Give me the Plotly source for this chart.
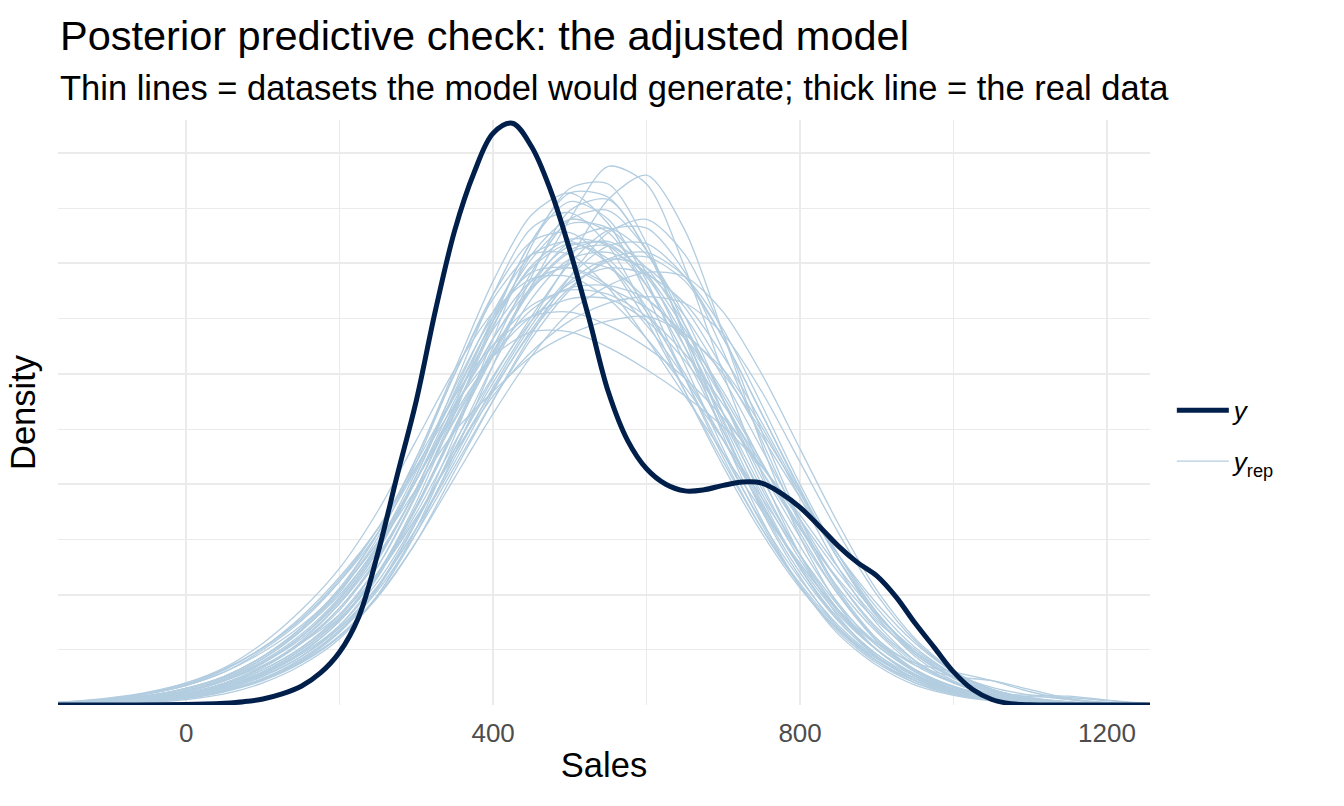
import plotly.graph_objects as go

# density values are in units of 1e-4
sales_grid = [-200, -150, -100, -50, 0, 50, 100, 150, 200, 250, 300, 350, 400, 450, 500,
              550, 600, 650, 700, 750, 800, 850, 900, 950, 1000, 1050, 1100, 1150, 1200, 1250, 1300]

y_sales = [-200, -100, 0, 25, 50, 75, 100, 125, 150, 175, 200, 225, 250, 275, 300, 325, 350,
           375, 400, 425, 450, 475, 500, 525, 550, 575, 600, 625, 650, 675, 700, 725, 750,
           775, 800, 825, 850, 875, 900, 925, 950, 975, 1000, 1025, 1050, 1075, 1100, 1150, 1300]
y_density = [0, 0, 0.02, 0.04, 0.08, 0.15, 0.27, 0.5, 0.85, 1.45, 2.4, 4.0, 6.9, 10.4, 13.8,
             17.9, 21.5, 24.1, 25.9, 26.35, 25.3, 23.3, 20.6, 17.5, 14.2, 12.0, 10.7, 10.0,
             9.7, 9.75, 9.95, 10.1, 10.05, 9.6, 8.95, 8.1, 7.2, 6.45, 5.85, 4.9, 3.7, 2.6,
             1.5, 0.7, 0.25, 0.06, 0.01, 0, 0]

yrep_01 = [0.02, 0.05, 0.12, 0.25, 0.45, 0.9, 1.6, 2.6, 4.0, 6.3, 9.6, 13.0, 16.0, 18.8, 20.5, 20.8, 19.5, 17.0, 14.0, 11.0, 8.0, 5.3, 3.3, 1.8, 1.0, 0.5, 0.25, 0.12, 0.05, 0.02, 0.01]
yrep_02 = [0.01, 0.03, 0.08, 0.18, 0.35, 0.7, 1.3, 2.2, 3.6, 5.8, 9.0, 12.5, 15.8, 19.0, 22.0, 24.4, 23.6, 19.8, 15.0, 10.5, 6.8, 4.0, 2.2, 1.1, 0.5, 0.22, 0.1, 0.04, 0.02, 0.01, 0.0]
yrep_03 = [0.01, 0.04, 0.1, 0.2, 0.4, 0.8, 1.4, 2.3, 3.6, 5.6, 8.4, 11.6, 14.6, 17.4, 20.2, 22.9, 24.0, 21.5, 16.8, 11.8, 7.6, 4.5, 2.5, 1.3, 0.6, 0.28, 0.12, 0.05, 0.02, 0.01, 0.0]
yrep_04 = [0.03, 0.08, 0.18, 0.35, 0.65, 1.2, 2.1, 3.4, 5.2, 7.8, 11.2, 15.2, 19.2, 22.2, 23.2, 21.8, 18.6, 14.8, 11.2, 8.0, 5.4, 3.4, 2.0, 1.1, 0.6, 0.3, 0.14, 0.06, 0.03, 0.01, 0.0]
yrep_05 = [0.02, 0.06, 0.14, 0.28, 0.5, 0.95, 1.7, 2.8, 4.4, 6.7, 9.8, 13.6, 17.6, 21.0, 23.2, 23.0, 20.6, 16.8, 12.8, 9.2, 6.2, 3.9, 2.3, 1.2, 0.6, 0.28, 0.12, 0.05, 0.02, 0.01, 0.0]
yrep_06 = [0.04, 0.1, 0.22, 0.42, 0.75, 1.3, 2.2, 3.4, 5.0, 7.2, 9.8, 12.4, 14.2, 15.8, 16.8, 17.4, 17.6, 16.8, 15.0, 12.4, 9.6, 6.8, 4.4, 2.6, 1.4, 0.7, 0.32, 0.14, 0.06, 0.02, 0.01]
yrep_07 = [0.05, 0.12, 0.26, 0.5, 0.9, 1.6, 2.6, 3.9, 5.7, 8.0, 10.8, 13.6, 15.8, 16.9, 16.9, 16.2, 15.2, 14.0, 12.6, 10.8, 8.6, 6.2, 4.1, 2.5, 1.4, 0.7, 0.33, 0.15, 0.06, 0.02, 0.01]
yrep_08 = [0.06, 0.15, 0.3, 0.55, 0.95, 1.6, 2.6, 4.0, 5.8, 8.0, 10.8, 14.0, 17.4, 20.2, 21.8, 21.6, 19.6, 16.2, 12.4, 8.9, 6.0, 3.8, 2.2, 1.2, 0.6, 0.28, 0.12, 0.05, 0.02, 0.01, 0.0]
yrep_09 = [0.01, 0.03, 0.08, 0.18, 0.35, 0.7, 1.3, 2.2, 3.5, 5.4, 8.0, 11.2, 14.4, 17.2, 19.4, 20.8, 20.9, 19.4, 16.6, 13.2, 9.8, 6.6, 4.0, 2.2, 1.1, 0.5, 0.22, 0.1, 0.04, 0.02, 0.01]
yrep_10 = [0.02, 0.06, 0.14, 0.28, 0.5, 0.95, 1.7, 2.8, 4.3, 6.6, 9.8, 13.4, 16.6, 18.9, 20.0, 19.8, 18.4, 16.8, 15.2, 12.6, 9.4, 6.2, 3.7, 2.0, 1.0, 0.46, 0.2, 0.08, 0.03, 0.01, 0.0]
yrep_11 = [0.02, 0.05, 0.11, 0.22, 0.42, 0.8, 1.45, 2.4, 3.8, 6.0, 9.0, 12.6, 16.2, 19.6, 22.0, 22.4, 20.6, 17.2, 13.2, 9.4, 6.2, 3.8, 2.2, 1.2, 0.6, 0.28, 0.12, 0.05, 0.02, 0.01, 0.0]
yrep_12 = [0.03, 0.08, 0.17, 0.33, 0.6, 1.1, 1.9, 3.0, 4.6, 6.8, 9.7, 12.9, 15.8, 17.9, 18.9, 19.0, 18.4, 16.6, 13.8, 10.6, 7.6, 5.0, 3.0, 1.8, 1.3, 1.1, 0.7, 0.3, 0.1, 0.03, 0.01]
yrep_13 = [0.04, 0.1, 0.22, 0.42, 0.75, 1.3, 2.2, 3.5, 5.3, 7.8, 11.2, 15.0, 18.6, 21.0, 21.4, 20.0, 17.4, 14.2, 11.0, 8.0, 5.5, 3.5, 2.1, 1.2, 0.62, 0.3, 0.13, 0.05, 0.02, 0.01, 0.0]
yrep_14 = [0.01, 0.03, 0.07, 0.16, 0.32, 0.65, 1.2, 2.0, 3.3, 5.2, 7.8, 10.8, 13.8, 16.6, 18.8, 20.2, 20.5, 19.4, 17.0, 13.6, 10.0, 6.8, 4.2, 2.3, 1.2, 0.55, 0.24, 0.1, 0.04, 0.01, 0.0]
yrep_15 = [0.02, 0.04, 0.1, 0.2, 0.38, 0.75, 1.4, 2.35, 3.8, 6.0, 9.2, 13.2, 17.4, 21.0, 22.8, 22.0, 19.2, 15.4, 11.6, 8.2, 5.4, 3.3, 1.9, 1.0, 0.5, 0.22, 0.1, 0.04, 0.02, 0.01, 0.0]
yrep_16 = [0.06, 0.14, 0.28, 0.52, 0.9, 1.5, 2.4, 3.6, 5.2, 7.4, 10.2, 13.2, 15.8, 17.6, 18.4, 18.4, 17.4, 15.6, 13.2, 10.6, 8.0, 5.7, 3.8, 2.4, 1.4, 0.8, 0.45, 0.25, 0.12, 0.05, 0.02]
yrep_17 = [0.02, 0.05, 0.12, 0.24, 0.45, 0.85, 1.5, 2.5, 3.9, 6.0, 9.0, 12.5, 16.0, 18.9, 20.6, 21.0, 19.8, 17.2, 13.8, 10.3, 7.2, 4.6, 2.7, 1.5, 0.8, 0.5, 0.45, 0.4, 0.22, 0.08, 0.02]
yrep_18 = [0.03, 0.08, 0.18, 0.36, 0.66, 1.2, 2.0, 3.2, 4.9, 7.3, 10.6, 14.4, 17.6, 19.6, 19.8, 18.9, 18.0, 16.6, 14.2, 11.0, 7.8, 5.0, 2.9, 1.6, 0.8, 0.38, 0.16, 0.06, 0.02, 0.01, 0.0]
yrep_19 = [0.01, 0.03, 0.08, 0.17, 0.33, 0.65, 1.2, 2.1, 3.4, 5.4, 8.3, 11.6, 14.8, 17.6, 20.0, 21.5, 21.6, 19.6, 16.0, 12.0, 8.2, 5.1, 2.9, 1.5, 0.72, 0.32, 0.13, 0.05, 0.02, 0.01, 0.0]
yrep_20 = [0.05, 0.13, 0.28, 0.55, 1.0, 1.7, 2.8, 4.3, 6.2, 8.8, 12.0, 15.2, 17.8, 19.3, 19.4, 18.4, 16.6, 14.4, 12.0, 9.4, 6.8, 4.5, 2.8, 1.6, 0.85, 0.42, 0.19, 0.08, 0.03, 0.01, 0.0]
yrep_21 = [0.02, 0.06, 0.13, 0.26, 0.48, 0.9, 1.6, 2.6, 4.1, 6.3, 9.5, 13.3, 17.1, 20.4, 22.0, 21.4, 19.0, 15.8, 12.4, 9.1, 6.2, 3.9, 2.3, 1.3, 0.65, 0.3, 0.13, 0.05, 0.02, 0.01, 0.0]
yrep_22 = [0.01, 0.04, 0.1, 0.2, 0.4, 0.75, 1.35, 2.2, 3.5, 5.4, 8.0, 11.0, 14.2, 17.0, 19.2, 20.2, 19.8, 18.0, 15.2, 12.2, 9.4, 6.8, 4.6, 2.8, 1.5, 0.7, 0.3, 0.12, 0.05, 0.02, 0.01]
yrep_23 = [0.01, 0.03, 0.07, 0.16, 0.3, 0.6, 1.1, 1.9, 3.1, 5.0, 7.8, 11.4, 15.4, 19.4, 22.4, 22.9, 20.6, 16.8, 12.6, 8.8, 5.8, 3.5, 2.0, 1.0, 0.48, 0.2, 0.08, 0.03, 0.01, 0.0, 0.0]
yrep_24 = [0.02, 0.05, 0.12, 0.24, 0.45, 0.85, 1.5, 2.5, 3.9, 5.9, 8.5, 11.4, 14.0, 16.0, 17.4, 18.2, 18.5, 18.2, 16.8, 14.2, 11.0, 7.8, 5.0, 2.9, 1.5, 0.7, 0.3, 0.12, 0.05, 0.02, 0.01]
yrep_25 = [0.03, 0.07, 0.16, 0.32, 0.6, 1.1, 1.9, 3.1, 4.8, 7.2, 10.4, 14.2, 17.8, 20.4, 21.0, 20.0, 17.8, 15.0, 12.0, 9.0, 6.3, 4.1, 2.5, 1.4, 0.72, 0.34, 0.15, 0.06, 0.02, 0.01, 0.0]
yrep_26 = [0.01, 0.02, 0.05, 0.12, 0.25, 0.5, 1.0, 1.8, 3.0, 5.0, 8.0, 11.8, 15.4, 18.4, 20.2, 20.5, 19.6, 17.6, 14.8, 11.6, 8.4, 5.6, 3.4, 1.9, 1.0, 0.46, 0.2, 0.08, 0.03, 0.01, 0.0]
yrep_27 = [0.01, 0.03, 0.08, 0.17, 0.33, 0.64, 1.15, 1.95, 3.1, 4.9, 7.4, 10.6, 13.8, 16.8, 19.4, 21.4, 22.0, 20.4, 16.8, 12.4, 8.4, 5.2, 3.0, 1.6, 0.8, 0.36, 0.15, 0.06, 0.02, 0.01, 0.0]
yrep_28 = [0.03, 0.08, 0.18, 0.35, 0.62, 1.1, 1.9, 3.1, 4.7, 7.0, 10.2, 13.8, 17.0, 19.2, 19.8, 19.0, 17.2, 14.8, 12.0, 9.0, 6.4, 4.3, 2.8, 1.9, 1.5, 1.1, 0.6, 0.25, 0.08, 0.03, 0.01]
yrep_29 = [0.04, 0.1, 0.22, 0.42, 0.76, 1.3, 2.2, 3.5, 5.2, 7.4, 10.2, 13.5, 16.6, 19.2, 20.8, 20.9, 19.4, 16.6, 13.2, 9.8, 6.8, 4.3, 2.5, 1.3, 0.65, 0.3, 0.13, 0.05, 0.02, 0.01, 0.0]
yrep_30 = [0.05, 0.12, 0.26, 0.5, 0.88, 1.5, 2.5, 3.8, 5.6, 8.0, 11.0, 14.0, 16.3, 17.6, 17.8, 17.2, 16.2, 14.8, 13.0, 10.8, 8.4, 6.0, 3.9, 2.3, 1.25, 0.62, 0.28, 0.12, 0.05, 0.02, 0.01]
yrep_31 = [0.03, 0.07, 0.15, 0.3, 0.55, 1.0, 1.75, 2.85, 4.4, 6.6, 9.8, 13.6, 17.2, 19.9, 21.1, 20.8, 19.0, 16.2, 12.9, 9.6, 6.6, 4.2, 2.5, 1.35, 0.68, 0.32, 0.14, 0.06, 0.02, 0.01, 0.0]
yrep_32 = [0.02, 0.05, 0.12, 0.24, 0.45, 0.85, 1.5, 2.5, 3.9, 5.9, 8.7, 11.9, 14.9, 17.4, 19.1, 19.8, 19.5, 18.2, 15.8, 12.8, 9.6, 6.6, 4.2, 2.4, 1.25, 0.6, 0.26, 0.1, 0.04, 0.01, 0.0]
yrep_33 = [0.02, 0.06, 0.14, 0.28, 0.52, 0.98, 1.75, 2.9, 4.6, 7.0, 10.4, 14.5, 18.6, 21.6, 22.3, 20.8, 17.8, 14.2, 10.8, 7.8, 5.3, 3.4, 2.0, 1.1, 0.55, 0.26, 0.11, 0.04, 0.02, 0.01, 0.0]
yrep_34 = [0.04, 0.09, 0.19, 0.36, 0.64, 1.1, 1.8, 2.8, 4.1, 6.0, 8.5, 11.4, 14.3, 16.9, 18.9, 20.1, 20.3, 19.2, 16.6, 13.2, 9.7, 6.6, 4.1, 2.4, 1.3, 0.65, 0.3, 0.13, 0.05, 0.02, 0.01]
yrep_35 = [0.03, 0.08, 0.18, 0.35, 0.64, 1.15, 1.95, 3.1, 4.8, 7.1, 10.2, 13.5, 16.3, 18.1, 18.8, 18.6, 17.6, 15.9, 13.6, 10.9, 8.1, 5.6, 3.5, 2.0, 1.05, 0.5, 0.22, 0.09, 0.03, 0.01, 0.0]
yrep_36 = [0.01, 0.03, 0.08, 0.17, 0.33, 0.65, 1.2, 2.05, 3.35, 5.3, 8.3, 12.2, 16.6, 20.8, 23.4, 23.6, 20.9, 16.6, 12.2, 8.4, 5.4, 3.2, 1.8, 0.9, 0.44, 0.19, 0.08, 0.03, 0.01, 0.0, 0.0]
yrep_37 = [0.04, 0.1, 0.21, 0.4, 0.72, 1.25, 2.1, 3.35, 5.1, 7.6, 11.0, 15.0, 18.4, 20.4, 20.4, 18.9, 16.6, 14.0, 11.4, 8.8, 6.4, 4.3, 2.7, 1.55, 0.82, 0.4, 0.18, 0.07, 0.03, 0.01, 0.0]
yrep_38 = [0.01, 0.03, 0.08, 0.17, 0.33, 0.64, 1.15, 1.95, 3.15, 4.95, 7.4, 10.3, 13.2, 15.8, 17.8, 19.0, 19.6, 19.4, 17.8, 15.0, 11.6, 8.2, 5.2, 3.0, 1.55, 0.72, 0.3, 0.12, 0.04, 0.01, 0.0]
yrep_39 = [0.02, 0.05, 0.11, 0.22, 0.42, 0.8, 1.45, 2.4, 3.8, 5.9, 8.9, 12.4, 15.9, 19.0, 21.0, 21.6, 20.4, 17.6, 13.8, 10.0, 6.8, 4.3, 2.5, 1.35, 0.72, 0.45, 0.38, 0.34, 0.2, 0.07, 0.02]
yrep_40 = [0.07, 0.16, 0.32, 0.58, 1.0, 1.65, 2.6, 3.9, 5.6, 7.8, 10.7, 14.1, 17.4, 19.8, 20.9, 20.2, 18.0, 14.8, 11.4, 8.3, 5.7, 3.6, 2.15, 1.2, 0.62, 0.3, 0.13, 0.05, 0.02, 0.01, 0.0]

yrep_sets = [yrep_01, yrep_02, yrep_03, yrep_04, yrep_05, yrep_06, yrep_07, yrep_08, yrep_09, yrep_10,
             yrep_11, yrep_12, yrep_13, yrep_14, yrep_15, yrep_16, yrep_17, yrep_18, yrep_19, yrep_20,
             yrep_21, yrep_22, yrep_23, yrep_24, yrep_25, yrep_26, yrep_27, yrep_28, yrep_29, yrep_30,
             yrep_31, yrep_32, yrep_33, yrep_34, yrep_35, yrep_36, yrep_37, yrep_38, yrep_39, yrep_40]

x_ticks = [0, 400, 800, 1200]

FONT = "Liberation Sans, Arial, Helvetica, sans-serif"
LIGHT = "#b3cde0"
DARK = "#011f4b"
GRID = "#ebebeb"

fig = go.Figure()

for i, dens in enumerate(yrep_sets):
    fig.add_trace(go.Scatter(
        x=sales_grid, y=dens, mode="lines",
        line=dict(color=LIGHT, width=1.3, shape="spline", smoothing=0.8),
        name="<i>y</i><sub>rep</sub>", legendgroup="yrep", legendrank=2,
        showlegend=(i == 0), hoverinfo="skip",
    ))

fig.add_trace(go.Scatter(
    x=y_sales, y=y_density, mode="lines",
    line=dict(color=DARK, width=5, shape="spline", smoothing=1.0),
    name="<i>y</i>", legendgroup="y", legendrank=1,
))

fig.add_annotation(text="Posterior predictive check: the adjusted model",
                   xref="paper", yref="paper", x=0, y=1.145, xanchor="left", yanchor="middle",
                   showarrow=False, font=dict(size=41.5, color="black", family=FONT))
fig.add_annotation(text="Thin lines = datasets the model would generate; thick line = the real data",
                   xref="paper", yref="paper", x=0, y=1.0555, xanchor="left", yanchor="middle",
                   showarrow=False, font=dict(size=34.5, color="black", family=FONT))

fig.update_layout(
    width=1344, height=806,
    margin=dict(l=58, r=194, t=120, b=101),
    plot_bgcolor="white", paper_bgcolor="white",
    font=dict(family=FONT, color="black"),
    showlegend=True,
    legend=dict(x=1.02, y=0.46, xanchor="left", yanchor="middle",
                traceorder="grouped", tracegroupgap=14, itemwidth=52,
                font=dict(size=26, color="black", family=FONT),
                bgcolor="rgba(0,0,0,0)"),
    xaxis=dict(
        range=[-167, 1256], tickvals=x_ticks, ticktext=[str(t) for t in x_ticks],
        showgrid=True, gridcolor=GRID, gridwidth=2.4, zeroline=False, showline=False,
        ticks="", ticklabelstandoff=10, automargin=False,
        tickfont=dict(size=26, color="#4d4d4d", family=FONT),
        minor=dict(dtick=200, tick0=0, showgrid=True, gridcolor=GRID, gridwidth=1.2),
        title=dict(text="Sales", font=dict(size=34.5, color="black", family=FONT), standoff=5),
    ),
    yaxis=dict(
        range=[0, 26.5], dtick=5, tick0=0, showticklabels=False,
        showgrid=True, gridcolor=GRID, gridwidth=2.4, zeroline=False, showline=False,
        ticks="", automargin=False,
        minor=dict(dtick=2.5, tick0=0, showgrid=True, gridcolor=GRID, gridwidth=1.2),
        title=dict(text="Density", font=dict(size=34.5, color="black", family=FONT), standoff=10),
    ),
)

fig.write_html("out.html", config={"displayModeBar": False},
               post_script="document.body.style.margin='0px';")
